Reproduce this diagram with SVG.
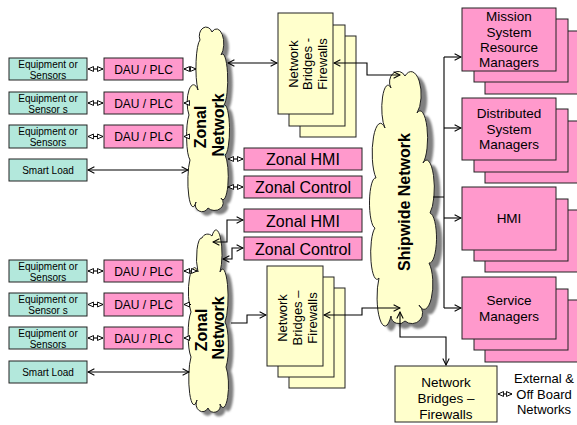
<svg xmlns="http://www.w3.org/2000/svg" width="577" height="425" viewBox="0 0 577 425">
<defs>
<style>
.t{font-family:"Liberation Sans",Arial,sans-serif;fill:#000}
.eq{font-size:10px}
.dau{font-size:12px}
.zn{font-size:16px}
.rb{font-size:13.5px}
.br{font-size:13px}
.cl{font-size:16px;font-weight:bold}
.teal{fill:#b3e8dc;stroke:#222;stroke-width:1}
.pink{fill:#ff99cc;stroke:#222;stroke-width:1}
.yel{fill:#ffffcc;stroke:#222;stroke-width:1}
.cloud{fill:#ffffcc;stroke:#222;stroke-width:1}
.shadow{fill:#808080;filter:url(#blur)}
.c{fill:none;stroke:#000;stroke-width:1.1}
</style>
<filter id="blur" x="-20%" y="-10%" width="140%" height="120%"><feGaussianBlur stdDeviation="0.8"/></filter>
<marker id="v" viewBox="0 0 10 10" refX="9" refY="5" markerWidth="8" markerHeight="8" markerUnits="userSpaceOnUse" orient="auto-start-reverse"><path d="M1,1 L9,5 L1,9" fill="none" stroke="#000" stroke-width="1.3"/></marker>
<marker id="tr" viewBox="0 0 10 10" refX="9" refY="5" markerWidth="7" markerHeight="7" markerUnits="userSpaceOnUse" orient="auto-start-reverse"><path d="M1,1.5 L9,5 L1,8.5 Z" fill="#fff" stroke="#000" stroke-width="1.4"/></marker>
<path id="zcloudA" d="M10,60 A5,28 0 0 1 12,10 A6,8 0 0 1 24,2 A6,12 0 0 1 33,25 A5,25 0 0 1 36,75 A5,25 0 0 1 37,125 A5,22 0 0 1 33,168 A7,6 0 0 1 20,178 A6,6 0 0 1 8,172 A5,25 0 0 1 2,130 A5,25 0 0 1 1,85 A5,14 0 0 1 10,60 Z"/>
<path id="zcloudB" d="M8,40 A5,20 0 0 1 12,6 A6,6 0 0 1 22,4 A5,20 0 0 1 30,40 A5,25 0 0 1 35,90 A5,25 0 0 1 36,135 A5,20 0 0 1 30,172 A6,6 0 0 1 18,176 A5,6 0 0 1 7,168 A5,25 0 0 1 1,125 A5,25 0 0 1 1,80 A5,20 0 0 1 8,40 Z"/>
<path id="scloud" d="M12,55 A6,22 0 0 1 18,15 A8,10 0 0 1 32,3 A8,18 0 0 1 44,40 A7,25 0 0 1 50,90 A7,25 0 0 1 57,140 A7,25 0 0 1 56,190 A7,20 0 0 1 46,232 A8,8 0 0 1 32,248 A8,8 0 0 1 18,243 A6,22 0 0 1 6,205 A6,25 0 0 1 2,155 A6,25 0 0 1 3,105 A7,25 0 0 1 12,55 Z"/>
</defs>
<rect width="577" height="425" fill="#fff"/>

<!-- top zone -->
<g id="eq1"><rect class="teal" x="9" y="58" width="78" height="22"/><text class="t eq" text-anchor="middle" x="48" y="67.5">Equipment or</text><text class="t eq" text-anchor="middle" x="48" y="78.5">Sensors</text></g>
<g id="eq2"><rect class="teal" x="9" y="92" width="78" height="22"/><text class="t eq" text-anchor="middle" x="48" y="101.5">Equipment or</text><text class="t eq" text-anchor="middle" x="48" y="112.5">Sensor s</text></g>
<g id="eq3"><rect class="teal" x="9" y="125" width="78" height="23"/><text class="t eq" text-anchor="middle" x="48" y="135">Equipment or</text><text class="t eq" text-anchor="middle" x="48" y="146">Sensors</text></g>
<g id="sl1"><rect class="teal" x="9" y="159" width="78" height="22"/><text class="t eq" text-anchor="middle" x="48" y="173.5">Smart Load</text></g>
<g id="dau1"><rect class="pink" x="104" y="58" width="79" height="22"/><text class="t dau" text-anchor="middle" x="143.5" y="73.5">DAU / PLC</text></g>
<g id="dau2"><rect class="pink" x="104" y="92" width="79" height="22"/><text class="t dau" text-anchor="middle" x="143.5" y="107.5">DAU / PLC</text></g>
<g id="dau3"><rect class="pink" x="104" y="125" width="79" height="23"/><text class="t dau" text-anchor="middle" x="143.5" y="141">DAU / PLC</text></g>

<g id="zonal1">
<use href="#zcloudA" class="shadow" transform="translate(193,34)"/>
<use href="#zcloudA" class="cloud" transform="translate(188,30)"/>
<text class="t cl" text-anchor="middle" transform="translate(206,127) rotate(-90)">Zonal</text>
<text class="t cl" text-anchor="middle" transform="translate(224,125) rotate(-90)">Network</text>
</g>

<g id="bridges1">
<rect class="yel" x="300" y="36" width="56" height="101"/>
<rect class="yel" x="289" y="25" width="56" height="101"/>
<rect class="yel" x="278" y="13" width="55" height="101"/>
<text class="t br" text-anchor="middle" transform="translate(298,64) rotate(-90)">Network</text>
<text class="t br" text-anchor="middle" transform="translate(312,64) rotate(-90)">Bridges -</text>
<text class="t br" text-anchor="middle" transform="translate(327,64) rotate(-90)">Firewalls</text>
</g>

<g id="zhmi1"><rect class="pink" x="244" y="148" width="118" height="22"/><text class="t zn" text-anchor="middle" x="303" y="165">Zonal HMI</text></g>
<g id="zctl1"><rect class="pink" x="244" y="176" width="118" height="22"/><text class="t zn" text-anchor="middle" x="303" y="193">Zonal Control</text></g>
<g id="zhmi2"><rect class="pink" x="244" y="209" width="118" height="23"/><text class="t zn" text-anchor="middle" x="303" y="226.5">Zonal HMI</text></g>
<g id="zctl2"><rect class="pink" x="244" y="237" width="118" height="23"/><text class="t zn" text-anchor="middle" x="303" y="254.5">Zonal Control</text></g>

<!-- bottom zone -->
<g id="eq4"><rect class="teal" x="9" y="260" width="78" height="22"/><text class="t eq" text-anchor="middle" x="48" y="269.5">Equipment or</text><text class="t eq" text-anchor="middle" x="48" y="280.5">Sensors</text></g>
<g id="eq5"><rect class="teal" x="9" y="293" width="78" height="23"/><text class="t eq" text-anchor="middle" x="48" y="303">Equipment or</text><text class="t eq" text-anchor="middle" x="48" y="314">Sensor s</text></g>
<g id="eq6"><rect class="teal" x="9" y="327" width="78" height="22"/><text class="t eq" text-anchor="middle" x="48" y="336.5">Equipment or</text><text class="t eq" text-anchor="middle" x="48" y="347.5">Sensors</text></g>
<g id="sl2"><rect class="teal" x="9" y="361" width="78" height="22"/><text class="t eq" text-anchor="middle" x="48" y="375.5">Smart Load</text></g>
<g id="dau4"><rect class="pink" x="104" y="260" width="79" height="22"/><text class="t dau" text-anchor="middle" x="143.5" y="275.5">DAU / PLC</text></g>
<g id="dau5"><rect class="pink" x="104" y="293" width="79" height="23"/><text class="t dau" text-anchor="middle" x="143.5" y="309">DAU / PLC</text></g>
<g id="dau6"><rect class="pink" x="104" y="327" width="79" height="22"/><text class="t dau" text-anchor="middle" x="143.5" y="342.5">DAU / PLC</text></g>

<g id="zonal2">
<use href="#zcloudB" class="shadow" transform="translate(195,236)"/>
<use href="#zcloudB" class="cloud" transform="translate(190,232)"/>
<text class="t cl" text-anchor="middle" transform="translate(207,330) rotate(-90)">Zonal</text>
<text class="t cl" text-anchor="middle" transform="translate(224,328) rotate(-90)">Network</text>
</g>

<g id="bridges2">
<rect class="yel" x="289" y="288" width="56" height="100"/>
<rect class="yel" x="278" y="277" width="56" height="100"/>
<rect class="yel" x="267" y="266" width="56" height="100"/>
<text class="t br" text-anchor="middle" transform="translate(287,318) rotate(-90)">Network</text>
<text class="t br" text-anchor="middle" transform="translate(302,318) rotate(-90)">Bridges –</text>
<text class="t br" text-anchor="middle" transform="translate(317,318) rotate(-90)">Firewalls</text>
</g>

<g id="shipwide">
<use href="#scloud" class="shadow" transform="translate(379,78)"/>
<use href="#scloud" class="cloud" transform="translate(373,73)"/>
<text class="t cl" text-anchor="middle" transform="translate(410,202) rotate(-90)">Shipwide Network</text>
</g>

<!-- right stacks -->
<g id="mission">
<rect class="pink" x="485" y="31" width="94" height="63"/>
<rect class="pink" x="474" y="19" width="94" height="63"/>
<rect class="pink" x="462" y="8" width="94" height="63"/>
<text class="t rb" text-anchor="middle" x="509" y="21">Mission</text>
<text class="t rb" text-anchor="middle" x="509" y="36.5">System</text>
<text class="t rb" text-anchor="middle" x="509" y="52">Resource</text>
<text class="t rb" text-anchor="middle" x="509" y="67">Managers</text>
</g>
<g id="distributed">
<rect class="pink" x="485" y="121" width="94" height="62"/>
<rect class="pink" x="474" y="109" width="94" height="63"/>
<rect class="pink" x="462" y="98" width="94" height="62"/>
<text class="t rb" text-anchor="middle" x="509" y="118">Distributed</text>
<text class="t rb" text-anchor="middle" x="509" y="133.5">System</text>
<text class="t rb" text-anchor="middle" x="509" y="149">Managers</text>
</g>
<g id="hmi">
<rect class="pink" x="485" y="210" width="94" height="62"/>
<rect class="pink" x="474" y="199" width="94" height="62"/>
<rect class="pink" x="462" y="187" width="94" height="63"/>
<text class="t rb" text-anchor="middle" x="509" y="223">HMI</text>
</g>
<g id="service">
<rect class="pink" x="485" y="300" width="94" height="62"/>
<rect class="pink" x="474" y="289" width="94" height="61"/>
<rect class="pink" x="462" y="277" width="94" height="62"/>
<text class="t rb" text-anchor="middle" x="509" y="305">Service</text>
<text class="t rb" text-anchor="middle" x="509" y="321">Managers</text>
</g>

<g id="bridges3">
<rect class="yel" x="395" y="366" width="102" height="56"/>
<text class="t rb" text-anchor="middle" x="446" y="387">Network</text>
<text class="t rb" text-anchor="middle" x="446" y="403">Bridges –</text>
<text class="t rb" text-anchor="middle" x="446" y="419">Firewalls</text>
</g>
<g id="external">
<text class="t br" text-anchor="middle" x="544" y="383">External &amp;</text>
<text class="t br" text-anchor="middle" x="544" y="399">Off Board</text>
<text class="t br" text-anchor="middle" x="544" y="414">Networks</text>
</g>

<g id="connectors">
<path class="c" d="M88,69 H103" marker-start="url(#tr)" marker-end="url(#tr)"/>
<path class="c" d="M88,103 H103" marker-start="url(#tr)" marker-end="url(#tr)"/>
<path class="c" d="M88,136.5 H103" marker-start="url(#tr)" marker-end="url(#tr)"/>
<path class="c" d="M88,271 H103" marker-start="url(#tr)" marker-end="url(#tr)"/>
<path class="c" d="M88,304.5 H103" marker-start="url(#tr)" marker-end="url(#tr)"/>
<path class="c" d="M88,338 H103" marker-start="url(#tr)" marker-end="url(#tr)"/>
<path class="c" d="M184,69 H196" marker-start="url(#tr)" marker-end="url(#tr)"/>
<path class="c" d="M190,103 H184" marker-end="url(#tr)"/>
<path class="c" d="M190,136.5 H184" marker-end="url(#tr)"/>
<path class="c" d="M184,271 H197" marker-start="url(#tr)" marker-end="url(#tr)"/>
<path class="c" d="M191,304.5 H184" marker-end="url(#tr)"/>
<path class="c" d="M191,338 H184" marker-end="url(#tr)"/>
<path class="c" d="M88,170 H188" marker-start="url(#v)" marker-end="url(#v)"/>
<path class="c" d="M88,372 H189" marker-start="url(#v)" marker-end="url(#v)"/>
<path class="c" d="M228,159 H243" marker-start="url(#tr)" marker-end="url(#tr)"/>
<path class="c" d="M228,187 H243" marker-start="url(#tr)" marker-end="url(#tr)"/>
<path class="c" d="M228,63 H277" marker-start="url(#v)" marker-end="url(#v)"/>
<path class="c" d="M334,63 H367 V75 H400" marker-start="url(#v)" marker-end="url(#v)"/>
<path class="c" d="M213,242 H227 V220 H243" marker-start="url(#v)" marker-end="url(#v)"/>
<path class="c" d="M223,259 H232 V248 H243" marker-start="url(#v)" marker-end="url(#v)"/>
<path class="c" d="M231,323 H247 V315 H266" marker-end="url(#v)"/>
<path class="c" d="M324,315 H362 V308 H400" marker-start="url(#v)" marker-end="url(#v)"/>
<path class="c" d="M400,312 V337 H446 V365" marker-start="url(#v)" marker-end="url(#v)"/>
<path class="c" d="M433,197 H444 M444,57 V308"/>
<path class="c" d="M444,57 H461" marker-end="url(#v)"/>
<path class="c" d="M444,128 H461" marker-end="url(#v)"/>
<path class="c" d="M444,218 H461" marker-end="url(#v)"/>
<path class="c" d="M444,308 H461" marker-end="url(#v)"/>
<path class="c" d="M498,394 H512" marker-start="url(#tr)" marker-end="url(#tr)"/>
</g>
</svg>
